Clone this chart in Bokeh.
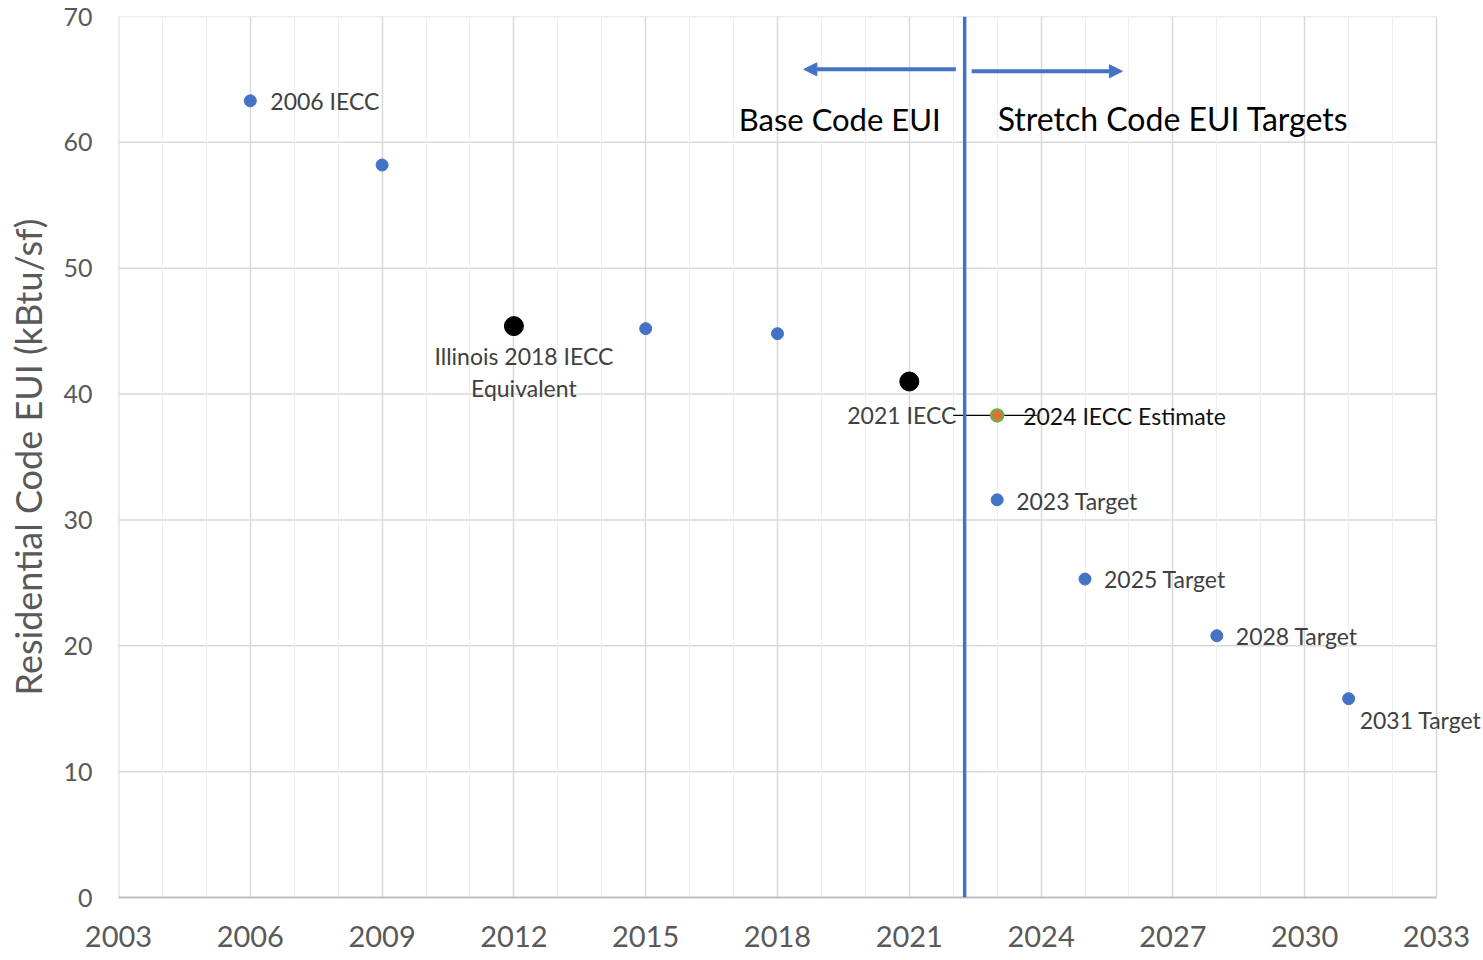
from bokeh.plotting import figure
from bokeh.models import Span, Arrow, NormalHead, FixedTicker
from bokeh.core.properties import value
from bokeh.embed import file_html
from bokeh.resources import INLINE

# ---- data ----
blue_years = [2006, 2009, 2015, 2018, 2023, 2025, 2028, 2031]
blue_eui = [63.3, 58.2, 45.2, 44.8, 31.6, 25.3, 20.8, 15.8]
blue_labels = ["2006 IECC", "", "", "", "2023 Target", "2025 Target", "2028 Target", "2031 Target"]

black_years = [2012, 2021]
black_eui = [45.4, 41.0]
black_labels = ["Illinois 2018 IECC\nEquivalent", "2021 IECC"]

est_years = [2023]
est_eui = [38.3]
est_labels = ["2024 IECC Estimate"]

divider_year = 2022.26
arrow_eui = 65.8
base_arrow_to = 2018.6
stretch_arrow_to = 2025.85
section_labels = ["Base Code EUI", "Stretch Code EUI Targets"]

x_min, x_max = 2003, 2033
y_min, y_max = 0, 70
x_ticks = [2003, 2006, 2009, 2012, 2015, 2018, 2021, 2024, 2027, 2030, 2033]
y_ticks = [0, 10, 20, 30, 40, 50, 60, 70]
y_title = "Residential Code EUI (kBtu/sf)"

FONT = "Lato"
BLUE = "#4472C4"
GRID = "#D9D9D9"

# plot area spans x_min..x_max over 1318 px; the frame is extended to the page's right
# edge so that the last point label can run past the chart's right border
LEFT, AREA_W, W = 118, 1318, 1483
x_end = x_min + (x_max - x_min) * (W - LEFT) / AREA_W

p = figure(width=W, height=960, output_backend="svg", toolbar_location=None,
           x_range=(x_min, x_end), y_range=(y_min, y_max),
           min_border_left=LEFT, min_border_right=0, min_border_top=16, min_border_bottom=63)
p.background_fill_color = "white"
p.border_fill_color = "white"
p.outline_line_color = None

p.xaxis.ticker = FixedTicker(ticks=x_ticks, minor_ticks=list(range(x_min, x_max + 1)))
p.xaxis.bounds = (x_min, x_max)
p.yaxis.ticker = FixedTicker(ticks=y_ticks)
for ax in (p.xaxis[0], p.yaxis[0]):
    ax.major_tick_out = 0
    ax.major_tick_in = 0
    ax.minor_tick_out = 0
    ax.minor_tick_in = 0
    ax.major_label_text_font = FONT
    ax.major_label_text_color = "#595959"
p.xaxis.major_label_text_font_size = "29px"
p.xaxis.major_label_standoff = 28
p.xaxis.axis_line_color = "#BFBFBF"
p.xaxis.axis_line_width = 2
p.yaxis.major_label_text_font_size = "25px"
p.yaxis.major_label_standoff = 26
p.yaxis.axis_line_color = None
p.yaxis.axis_label = y_title
p.yaxis.axis_label_text_font = FONT
p.yaxis.axis_label_text_font_size = "36px"
p.yaxis.axis_label_text_font_style = "normal"
p.yaxis.axis_label_text_color = "#595959"
p.yaxis.axis_label_standoff = 10

p.xgrid.grid_line_color = GRID
p.xgrid.grid_line_width = 1.5
p.xgrid.minor_grid_line_color = "#EFEFEF"
p.xgrid.minor_grid_line_width = 1
p.ygrid.grid_line_color = None
# horizontal gridlines only across the chart's plot area
p.segment(x0=[x_min] * len(y_ticks[1:]), x1=[x_max] * len(y_ticks[1:]), y0=y_ticks[1:], y1=y_ticks[1:],
          line_color=GRID, line_width=1.5, level="underlay")
p.segment(x0=[x_min], x1=[x_min], y0=[y_min], y1=[y_max], line_color=GRID, line_width=2, level="underlay")

# divider and arrows
p.add_layout(Span(location=divider_year, dimension="height", line_color=BLUE, line_width=3.5))
p.add_layout(Arrow(x_start=divider_year - 0.2, y_start=arrow_eui, x_end=base_arrow_to, y_end=arrow_eui,
                   line_color=BLUE, line_width=4,
                   end=NormalHead(size=13, fill_color=BLUE, line_color=BLUE)))
p.add_layout(Arrow(x_start=divider_year + 0.16, y_start=arrow_eui - 0.15, x_end=stretch_arrow_to, y_end=arrow_eui - 0.15,
                   line_color=BLUE, line_width=4,
                   end=NormalHead(size=13, fill_color=BLUE, line_color=BLUE)))

# section labels
p.text(x=[divider_year], y=[arrow_eui - 4.0], text=[section_labels[0]], text_font=value(FONT),
       text_font_size="31px", text_color="black", text_align="right", text_baseline="middle",
       x_offset=-24, y_offset=-1)
p.text(x=[divider_year], y=[arrow_eui - 4.0], text=[section_labels[1]], text_font=value(FONT),
       text_font_size="32px", text_color="black", text_align="left", text_baseline="middle",
       x_offset=33, y_offset=-1)

# leader line for estimate label
p.line(x=[black_years[1] + 1.0, est_years[0] + 0.9], y=[est_eui[0], est_eui[0]], line_color="black", line_width=1.3)

# markers
p.scatter(blue_years, blue_eui, size=12, color=BLUE)
p.scatter(black_years, black_eui, size=19, color="black")
p.scatter(est_years, est_eui, size=12, fill_color="#E0703A", line_color="#70AD47", line_width=2.5)

# point labels
blue_xoff = [20, 0, 0, 0, 19, 19, 19, 11]
blue_yoff = [0, 0, 0, 0, 1, 0, 0, 21]
p.text(x=blue_years, y=blue_eui, text=blue_labels, x_offset=blue_xoff, y_offset=blue_yoff,
       text_font=value(FONT), text_font_size="23px", text_color="#404040",
       text_align="left", text_baseline="middle")

p.text(x=[black_years[0]], y=[black_eui[0]], text=[black_labels[0]], x_offset=10, y_offset=46,
       text_font=value(FONT), text_font_size="23px", text_color="#404040",
       text_align="center", text_baseline="middle", text_line_height=1.16)
p.text(x=[black_years[1]], y=[black_eui[1]], text=[black_labels[1]], x_offset=47, y_offset=34,
       text_font=value(FONT), text_font_size="23px", text_color="#404040",
       text_align="right", text_baseline="middle")
p.text(x=est_years, y=est_eui, text=est_labels, x_offset=26, y_offset=1,
       text_font=value(FONT), text_font_size="23px", text_color="#111111",
       text_align="left", text_baseline="middle")

open("out.html", "w").write(file_html(p, INLINE))
